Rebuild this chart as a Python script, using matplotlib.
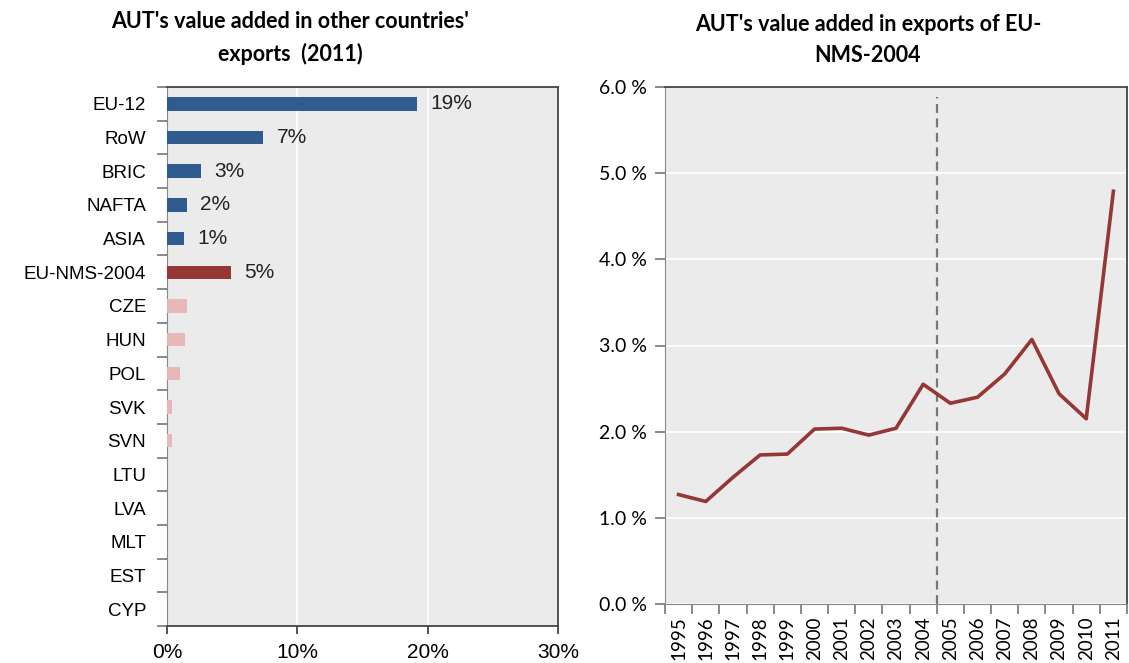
import numpy as np
import matplotlib.pyplot as plt
from matplotlib.ticker import FixedLocator, NullFormatter, FixedFormatter

# dados - painel esquerdo (2011)
regioes = ['EU-12', 'RoW', 'BRIC', 'NAFTA', 'ASIA', 'EU-NMS-2004',
           'CZE', 'HUN', 'POL', 'SVK', 'SVN', 'LTU', 'LVA', 'MLT', 'EST', 'CYP']
valores = [19.2, 7.4, 2.6, 1.5, 1.3, 4.9,
           1.5, 1.4, 1.0, 0.4, 0.4, 0.0, 0.0, 0.0, 0.0, 0.0]
rotulos = ['19%', '7%', '3%', '2%', '1%', '5%']

# dados - painel direito (serie temporal)
anos = [str(a) for a in range(1995, 2012)]
va_nms = [1.27, 1.19, 1.47, 1.73, 1.74, 2.03, 2.04, 1.96, 2.04, 2.55,
          2.33, 2.40, 2.67, 3.07, 2.44, 2.15, 4.79]

azul = '#2F5B8F'
vermelho = '#953735'
rosa = '#E6B9B8'
fundo = '#EBEBEB'
cores = [azul] * 5 + [vermelho] + [rosa] * 10

fig = plt.figure(figsize=(11.29, 6.63), dpi=100)
W, H = 1129, 663
ax1 = fig.add_axes([167 / W, 1 - 626 / H, (558 - 167) / W, (626 - 87) / H])
ax2 = fig.add_axes([665 / W, 1 - 604 / H, (1127 - 665) / W, (604 - 87) / H])

fonte_tit = ['Lato', 'DejaVu Sans']

# ---- painel esquerdo ----
ax1.set_facecolor(fundo)
y = np.arange(len(regioes))
ax1.barh(y, valores, height=0.4, color=cores, zorder=3)
for i, txt in enumerate(rotulos):
    ax1.text(valores[i] + 1.0, y[i], txt, va='center', ha='left',
             fontsize=15, family='Liberation Sans', color='#222222')
ax1.set_ylim(len(regioes) - 0.5, -0.5)
ax1.set_xlim(0, 30)
# tracos nas fronteiras (major), rotulos no centro (minor)
ax1.yaxis.set_major_locator(FixedLocator(np.arange(-0.5, len(regioes), 1)))
ax1.yaxis.set_major_formatter(NullFormatter())
ax1.yaxis.set_minor_locator(FixedLocator(y))
ax1.yaxis.set_minor_formatter(FixedFormatter(regioes))
ax1.tick_params(axis='y', which='major', length=7, width=1.3, color='#808080')
ax1.tick_params(axis='y', which='minor', length=0, pad=15, labelsize=13.5)
for lb in ax1.get_yticklabels(minor=True):
    lb.set_family('Liberation Sans')
ax1.set_xticks([0, 10, 20, 30])
ax1.set_xticklabels(['0%', '10%', '20%', '30%'], family='Liberation Sans', fontsize=15)
ax1.tick_params(axis='x', length=6, width=1.3, color='#444444', pad=6)
ax1.grid(axis='x', color='white', linewidth=1.2, zorder=0)
ax1.spines['left'].set_color('#888888')
for s in ['top', 'right', 'bottom']:
    ax1.spines[s].set_color('#444444')
    ax1.spines[s].set_linewidth(1.3)
fig.text(290 / W, 1 - 38 / H, "AUT's value added in other countries'\nexports  (2011)",
         family=fonte_tit, fontweight='bold', fontsize=15.5, ha='center',
         va='center', linespacing=1.6)

# ---- painel direito ----
ax2.set_facecolor(fundo)
x = np.arange(len(anos))
ax2.plot(x, va_nms, color=vermelho, linewidth=2.6, zorder=3)
ax2.vlines(9.5, 0, 5.88, colors='#777777', linestyles=(0, (4, 2.5)),
           linewidth=1.6, zorder=2)
ax2.set_xlim(-0.5, len(anos) - 0.5)
ax2.set_ylim(0, 6)
ax2.set_yticks(np.arange(0, 6.1, 1))
ax2.set_yticklabels([f'{v:.1f} %' for v in np.arange(0, 6.1, 1)],
                    family=fonte_tit, fontsize=14)
ax2.tick_params(axis='y', length=7, width=1.3, color='#808080', pad=6)
ax2.xaxis.set_major_locator(FixedLocator(np.arange(-0.5, len(anos), 1)))
ax2.xaxis.set_major_formatter(NullFormatter())
ax2.xaxis.set_minor_locator(FixedLocator(x))
ax2.xaxis.set_minor_formatter(FixedFormatter(anos))
ax2.tick_params(axis='x', which='major', length=7, width=1.3, color='#808080')
ax2.tick_params(axis='x', which='minor', length=0, pad=9, labelsize=13.5,
                labelrotation=90)
for lb in ax2.get_xticklabels(minor=True):
    lb.set_family(fonte_tit)
ax2.grid(axis='y', color='white', linewidth=1.2, zorder=0)
ax2.spines['left'].set_color('#888888')
ax2.spines['bottom'].set_color('#888888')
for s in ['top', 'right']:
    ax2.spines[s].set_color('#444444')
    ax2.spines[s].set_linewidth(1.3)
fig.text(868 / W, 1 - 40 / H, "AUT's value added in exports of EU-\nNMS-2004",
         family=fonte_tit, fontweight='bold', fontsize=15.5, ha='center',
         va='center', linespacing=1.6)

fig.savefig('out.png', dpi=100)
